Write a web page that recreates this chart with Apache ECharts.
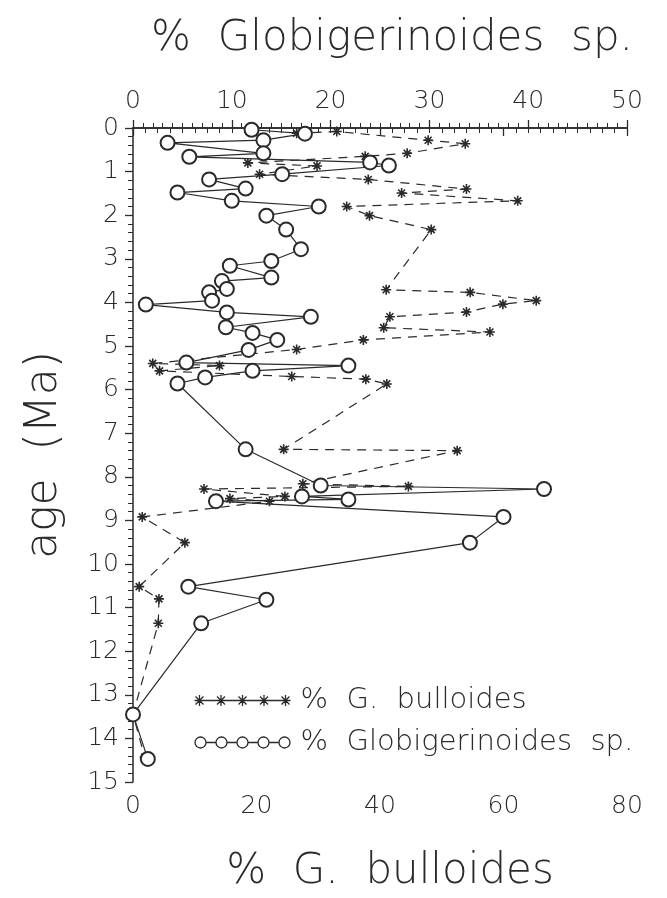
<!DOCTYPE html>
<html>
<head>
<meta charset="utf-8">
<script src="https://cdn.jsdelivr.net/npm/echarts@6/dist/echarts.min.js"></script>
<style>
html,body{margin:0;padding:0;background:#fff;}
#chart{width:667px;height:898px;}
</style>
</head>
<body>
<div id="chart"></div>
<script>
// Globigerinoides sp. (%), top axis
const globAge = [0.04,0.13,0.28,0.34,0.58,0.66,0.79,0.86,1.06,1.18,1.39,1.48,1.67,1.80,2.01,2.33,2.78,3.05,3.16,3.43,3.51,3.69,3.77,3.96,4.05,4.23,4.33,4.57,4.70,4.86,5.09,5.38,5.45,5.57,5.72,5.86,7.37,8.20,8.28,8.45,8.52,8.56,8.92,9.51,10.52,10.82,11.36,13.45,14.47];
const globPct = [12.0,17.4,13.2,3.5,13.2,5.7,24.0,25.9,15.1,7.7,11.4,4.5,10.0,18.8,13.5,15.5,17.0,14.0,9.8,14.0,9.0,9.5,7.7,8.0,1.3,9.5,18.0,9.4,12.1,14.6,11.7,5.4,21.8,12.1,7.3,4.5,11.4,19.0,41.6,17.1,21.8,8.4,37.5,34.1,5.6,13.5,6.9,0,1.5];
// G. bulloides (%), bottom axis
const bullAge = [0.12,0.08,0.28,0.36,0.58,0.65,0.80,0.87,1.06,1.18,1.40,1.49,1.67,1.80,2.01,2.33,3.71,3.77,3.96,4.04,4.22,4.33,4.58,4.68,4.86,5.08,5.40,5.45,5.57,5.70,5.76,5.87,7.37,7.40,8.16,8.22,8.28,8.45,8.50,8.56,8.92,9.51,10.52,10.80,11.36,13.45,14.43];
const bullPct = [26.5,33.0,47.8,53.8,44.4,37.6,18.6,29.8,20.5,38.1,54.0,43.5,62.3,34.6,38.3,48.3,41.0,54.6,65.3,59.9,54.0,41.6,40.6,57.8,37.3,26.5,3.2,14.0,4.3,25.7,37.7,41.1,24.4,52.5,27.5,44.6,11.5,24.6,15.7,22.1,1.5,8.4,1.0,4.2,4.1,0,1.9];

const topAxisName = '%  Globigerinoides  sp.';
const bottomAxisName = '%  G.  bulloides';
const leftAxisName = 'age  (Ma)';
const seriesNames = ['%  G.  bulloides', '%  Globigerinoides  sp.'];

const INK = '#2a2a2a';
const FONT = 'DejaVu Sans';
const WEIGHT = 200;

const starPath = 'path://M5 0 L5 10 M0 5 L10 5 M1.5 1.5 L8.5 8.5 M8.5 1.5 L1.5 8.5';

function legendStars() {
  const cs = [5, 26.5, 48, 69.5, 91];
  let p = 'M0 6 L96 6';
  cs.forEach(c => {
    p += ` M${c} 0.5 L${c} 11.5 M${c-4} 2 L${c+4} 10 M${c+4} 2 L${c-4} 10`;
  });
  p += ' M0 0 L0 0 M96 12 L96 12';
  return 'path://' + p;
}
function legendCircles() {
  const cs = [6, 27, 48, 69, 90];
  let p = '';
  cs.forEach((c, i) => {
    p += ` M${c+5.5} 6 A5.5 5.5 0 1 0 ${c-5.5} 6 A5.5 5.5 0 1 0 ${c+5.5} 6`;
    if (i < cs.length - 1) p += ` M${c+5.5} 6 L${cs[i+1]-5.5} 6`;
  });
  p += ' M0 0 L0 0 M96 12 L96 12';
  return 'path://' + p.trim();
}

const chart = echarts.init(document.getElementById('chart'), null, {renderer: 'canvas'});
const axisLabel = {color: INK, fontFamily: FONT, fontSize: 25, fontWeight: WEIGHT};
const nameStyle = (size, pad) => ({color: INK, fontFamily: FONT, fontSize: size, fontWeight: WEIGHT, padding: pad});
chart.setOption({
  backgroundColor: '#fff',
  animation: false,
  grid: {left: 133, right: 40, top: 128, bottom: 110},
  legend: {
    orient: 'vertical',
    left: 187, top: 681,
    itemWidth: 96, itemHeight: 12, itemGap: 13,
    symbolKeepAspect: false,
    textStyle: {color: INK, fontFamily: FONT, fontSize: 29, fontWeight: WEIGHT, padding: [0, 0, 0, 5]},
    data: [
      {name: seriesNames[0], icon: legendStars(), itemStyle: {color: 'none', borderColor: INK, borderWidth: 1.3}},
      {name: seriesNames[1], icon: legendCircles(), itemStyle: {color: 'none', borderColor: INK, borderWidth: 1.3}}
    ]
  },
  xAxis: [
    {
      type: 'value', position: 'bottom', min: 0, max: 80, interval: 20,
      name: bottomAxisName, nameLocation: 'middle', nameGap: 69,
      nameTextStyle: nameStyle(42, [0, 0, 0, 20]),
      axisLine: {show: true, lineStyle: {color: INK, width: 1.5}},
      axisTick: {show: true, length: 8, lineStyle: {color: INK, width: 1.3}},
      minorTick: {show: true, splitNumber: 10, length: 5, lineStyle: {color: INK, width: 1}},
      axisLabel: Object.assign({margin: 12}, axisLabel),
      splitLine: {show: false}
    },
    {
      type: 'value', position: 'top', min: 0, max: 50, interval: 10,
      name: topAxisName, nameLocation: 'middle', nameGap: 68,
      nameTextStyle: nameStyle(42, [0, 0, 0, 24]),
      axisLine: {show: true, lineStyle: {color: INK, width: 1.5}},
      axisTick: {show: true, length: 8, lineStyle: {color: INK, width: 1.3}},
      minorTick: {show: true, splitNumber: 10, length: 5, lineStyle: {color: INK, width: 1}},
      axisLabel: Object.assign({margin: 14}, axisLabel),
      splitLine: {show: false}
    }
  ],
  yAxis: {
    type: 'value', inverse: true, min: 0, max: 15, interval: 1,
    name: leftAxisName, nameLocation: 'middle', nameGap: 66, nameRotate: 90,
    nameTextStyle: nameStyle(44, 0),
    axisLine: {show: true, lineStyle: {color: INK, width: 1.5}},
    axisTick: {show: true, length: 8, lineStyle: {color: INK, width: 1.3}},
    minorTick: {show: true, splitNumber: 5, length: 5, lineStyle: {color: INK, width: 1}},
    axisLabel: Object.assign({margin: 14}, axisLabel),
    splitLine: {show: false}
  },
  series: [
    {
      name: seriesNames[0], type: 'line', xAxisIndex: 0,
      data: bullAge.map((a, i) => [bullPct[i], a]),
      symbol: starPath, symbolSize: 10,
      itemStyle: {color: INK, borderColor: INK, borderWidth: 1.6},
      lineStyle: {color: INK, width: 1.2, type: [9, 7]},
      z: 2
    },
    {
      name: seriesNames[1], type: 'line', xAxisIndex: 1,
      data: globAge.map((a, i) => [globPct[i], a]),
      symbol: 'emptyCircle', symbolSize: 14,
      itemStyle: {color: INK, borderColor: INK, borderWidth: 1.3},
      lineStyle: {color: INK, width: 1.2, type: 'solid'},
      z: 3
    }
  ]
});
</script>
</body>
</html>
